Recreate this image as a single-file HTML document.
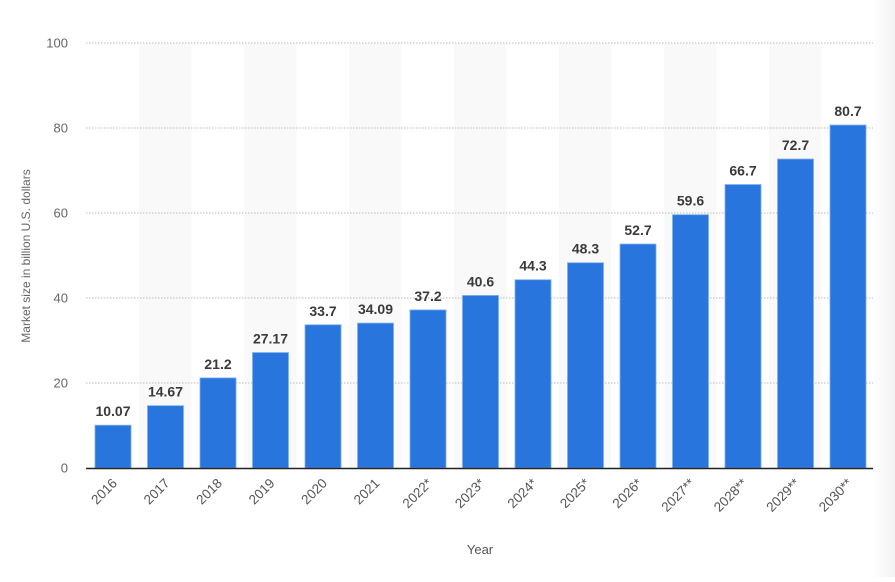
<!DOCTYPE html><html><head><style>body{margin:0;background:#fff}svg{font-family:"Liberation Sans",sans-serif}</style></head><body>
<svg width="895" height="577" xmlns="http://www.w3.org/2000/svg">
<defs><linearGradient id="sh" x1="0" x2="1"><stop offset="0" stop-color="#fff"/><stop offset="1" stop-color="#f3f3f3"/></linearGradient></defs>
<rect x="872" y="0" width="23" height="577" fill="url(#sh)"/>
<g id="bands"></g>
<g id="grid"></g>
<g id="bars"></g>
<line x1="86" y1="468.5" x2="873" y2="468.5" stroke="#222" stroke-width="1.5"/>
<text x="30" y="256" transform="rotate(-90 30 256)" text-anchor="middle" font-size="12" fill="#666">Market size in billion U.S. dollars</text>
<text x="480" y="554" text-anchor="middle" font-size="13" fill="#555">Year</text>
</svg>
<script>
const vals=[10.07,14.67,21.2,27.17,33.7,34.09,37.2,40.6,44.3,48.3,52.7,59.6,66.7,72.7,80.7];
const yrs=["2016","2017","2018","2019","2020","2021","2022*","2023*","2024*","2025*","2026*","2027**","2028**","2029**","2030**"];
const ns="http://www.w3.org/2000/svg";
function el(p,t,a,txt){const e=document.createElementNS(ns,t);for(const k in a)e.setAttribute(k,a[k]);if(txt)e.textContent=txt;document.getElementById(p).appendChild(e);}
for(let i=0;i<15;i++){if(i%2)el("bands","rect",{x:86.5+52.5*i,y:43,width:52.5,height:425,fill:"#f9f9f9"});}
for(let v=0;v<=100;v+=20){const y=468-4.25*v;if(v)el("grid","line",{x1:86,x2:873,y1:y,y2:y,stroke:"#bbb","stroke-dasharray":"1.5,1.5"});el("grid","text",{x:68,y:y+4.5,"text-anchor":"end","font-size":"13",fill:"#666"},String(v));}
vals.forEach((v,i)=>{const c=113+52.5*i,y=468-4.25*v;
el("bars","rect",{x:c-18,y:y,width:36,height:468-y,fill:"#2876dd",stroke:"#7fb0ee","stroke-width":"0.8"});
el("bars","text",{x:c,y:y-9,"text-anchor":"middle","font-size":"14","font-weight":"bold",fill:"#3a3a3a"},String(v));
el("bars","text",{x:c+5,y:484,"text-anchor":"end","font-size":"13.5",fill:"#555",transform:`rotate(-45 ${c+5} 484)`},yrs[i]);});
</script>
</body></html>
